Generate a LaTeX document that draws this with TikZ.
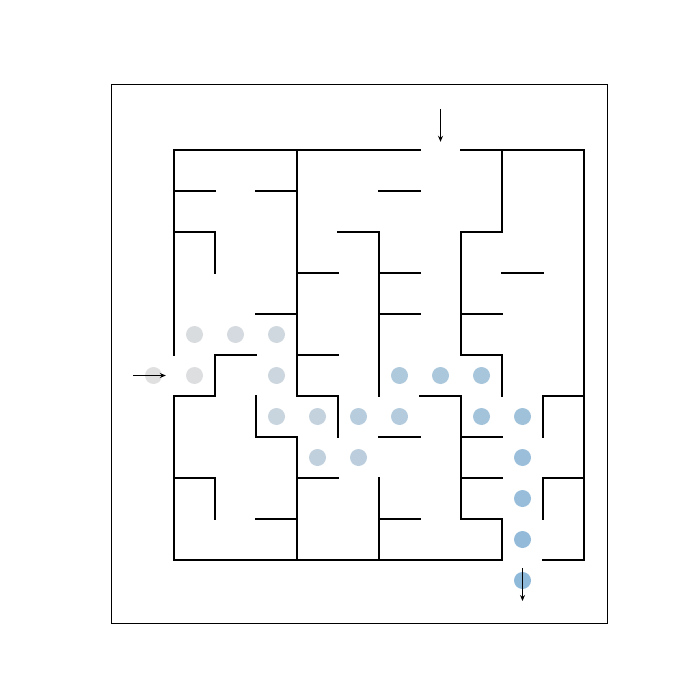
\documentclass[tikz,border=0pt]{standalone}
\usetikzlibrary{arrows.meta}
\definecolor{dotA}{RGB}{224,224,224}
\definecolor{dotB}{RGB}{143,185,217}
\definecolor{tipc}{RGB}{20,60,110}
\begin{document}
\begin{tikzpicture}[x=1pt,y=-1pt]
\useasboundingbox (0,0) rectangle (700,700);
\draw[line width=0.8pt] (111,84) rectangle (607,623);
\begin{scope}[xshift=174pt,yshift=-150pt,x=41pt,y=-41pt,
  wall/.style={line width=1.6pt,line cap=rect,line join=miter},
  dotc/.style={circle,draw=none,inner sep=0pt,minimum size=17pt},
  arr/.style={line width=1.3pt,-{Stealth[length=6pt,width=5pt,fill=tipc]}}]
% solution dots
\foreach \x/\y [count=\k] in {-0.5/5.5,0.5/5.5,0.5/4.5,1.5/4.5,2.5/4.5,2.5/5.5,2.5/6.5,3.5/6.5,3.5/7.5,4.5/7.5,4.5/6.5,5.5/6.5,5.5/5.5,6.5/5.5,7.5/5.5,7.5/6.5,8.5/6.5,8.5/7.5,8.5/8.5,8.5/9.5,8.5/10.5}{
  \pgfmathtruncatemacro\p{(\k-1)*5}
  \node[dotc,fill=dotB!\p!dotA] (d\k) at (\x,\y) {};
}
% outer walls
\draw[wall] (0,5) -- (0,0) -- (6,0);
\draw[wall] (7,0) -- (10,0) -- (10,10) -- (9,10);
\draw[wall] (8,10) -- (0,10) -- (0,6) -- (1,6) -- (1,5) -- (2,5);
% interior walls
\draw[wall] (0,1) -- (1,1);
\draw[wall] (2,1) -- (3,1);
\draw[wall] (5,1) -- (6,1);
\draw[wall] (3,0) -- (3,6) -- (4,6) -- (4,7);
\draw[wall] (0,2) -- (1,2) -- (1,3);
\draw[wall] (4,2) -- (5,2) -- (5,6);
\draw[wall] (5,8) -- (5,10);
\draw[wall] (3,3) -- (4,3);
\draw[wall] (5,3) -- (6,3);
\draw[wall] (8,3) -- (9,3);
\draw[wall] (2,4) -- (3,4);
\draw[wall] (5,4) -- (6,4);
\draw[wall] (7,4) -- (8,4);
\draw[wall] (8,0) -- (8,2) -- (7,2) -- (7,5) -- (8,5) -- (8,6);
\draw[wall] (3,5) -- (4,5);
\draw[wall] (6,6) -- (7,6) -- (7,9) -- (8,9) -- (8,10);
\draw[wall] (9,7) -- (9,6) -- (10,6);
\draw[wall] (2,6) -- (2,7) -- (3,7) -- (3,10);
\draw[wall] (5,7) -- (6,7);
\draw[wall] (7,7) -- (8,7);
\draw[wall] (5,9) -- (6,9);
\draw[wall] (0,8) -- (1,8) -- (1,9);
\draw[wall] (3,8) -- (4,8);
\draw[wall] (7,8) -- (8,8);
\draw[wall] (9,9) -- (9,8) -- (10,8);
\draw[wall] (2,9) -- (3,9);
% arrows
\coordinate (inS) at (-1,5.5);
\coordinate (inE) at (-0.2,5.5);
\coordinate (topS) at (6.5,-1);
\coordinate (topE) at (6.5,-0.2);
\coordinate (outS) at (8.5,10.2);
\coordinate (outE) at (8.5,11.0);
\draw[arr] (inS) -- (inE);
\draw[arr] (topS) -- (topE);
\draw[arr] (outS) -- (outE);
\end{scope}
\end{tikzpicture}
\end{document}
